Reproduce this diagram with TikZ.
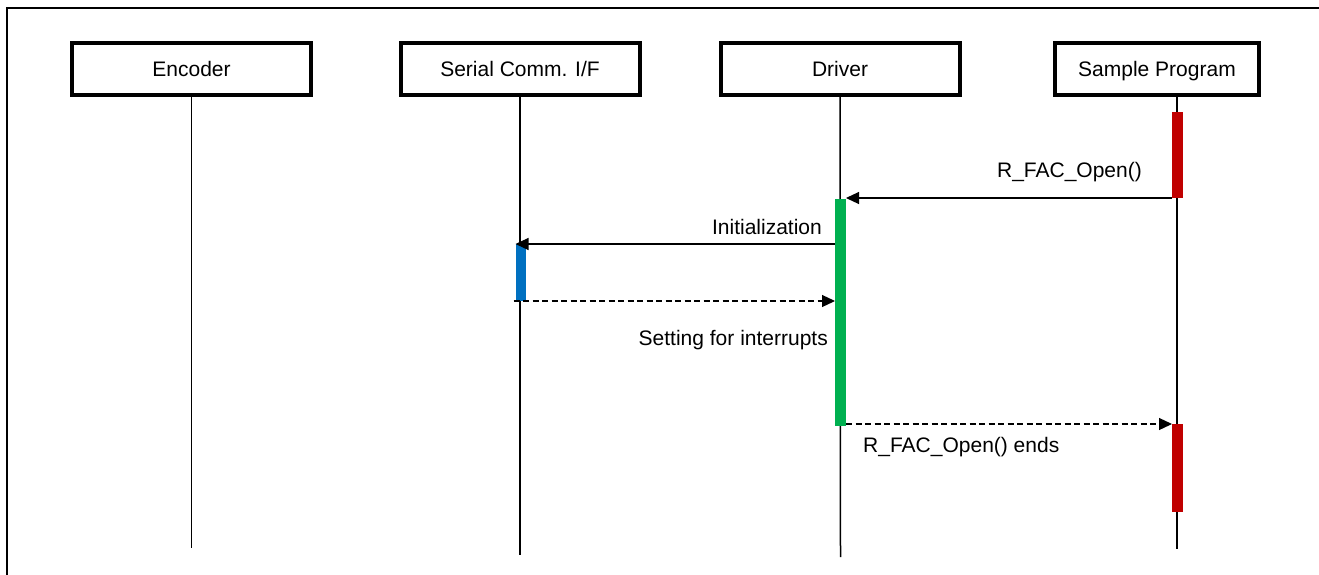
\documentclass[tikz,border=0pt]{standalone}
\usepackage{fontspec}
\setmainfont{Liberation Sans}
\usetikzlibrary{arrows.meta}

\definecolor{actred}{HTML}{C00000}
\definecolor{actgreen}{HTML}{00B050}
\definecolor{actblue}{HTML}{0070C0}

\tikzset{
  lifebox/.style={draw,line width=4pt,minimum width=239pt,minimum height=52pt,inner sep=0pt,font=\fontsize{21}{25}\selectfont,text height=16pt,text depth=1pt},
  actbar/.style={minimum width=11pt,inner sep=0pt,outer sep=0pt},
  msg/.style={line width=1.2pt,-{Triangle[length=13pt,width=12pt]}},
  ret/.style={msg,dash pattern=on 6pt off 3.5pt},
  msglabel/.style={inner sep=0pt,font=\fontsize{21}{25}\selectfont},
  lifeline/.style={line width=1.5pt}
}

\begin{document}
\begin{tikzpicture}[x=1pt,y=-1pt]
  \useasboundingbox (0,0) rectangle (1319,574);
  \draw[line width=2pt] (7,575) -- (7,8) -- (1319,8);
  % participants
  \node[lifebox] (enc) at (191.5,69) {Encoder};
  \node[lifebox] (sci) at (520,69) {Serial Comm. I/F};
  \node[lifebox] (drvbox) at (840,69) {Driver};
  \node[lifebox,minimum width=204pt] (spbox) at (1157,69) {Sample Program};
  \coordinate (encend) at (191.5,548);
  \coordinate (sciend) at (520,555);
  \coordinate (drvend) at (840.5,557);
  \coordinate (spend) at (1177,549);
  \draw[lifeline] (enc.south) -- (encend);
  \draw[lifeline] (sci.south) -- (sciend);
  \draw[lifeline] (drvbox.south) -- (drvend);
  \draw[lifeline] (spbox.south -| spend) -- (spend);
  % activations
  \node[actbar,fill=actred,minimum height=86pt,anchor=north] (sp1) at (1177.5,112) {};
  \node[actbar,fill=actgreen,minimum height=227pt,anchor=north] (drv) at (840.5,199) {};
  \node[actbar,fill=actblue,minimum height=57pt,minimum width=10pt,anchor=north] (ser) at (520.5,244) {};
  \node[actbar,fill=actred,minimum height=88pt,anchor=north] (sp2) at (1177.5,424) {};
  % messages
  \draw[msg] (sp1.south west) -- (sp1.south west -| drv.east);
  \node[msglabel,anchor=east] (lopen) at (1142,172) {R\_FAC\_Open()};
  \draw[msg] (drv.west |- ser.north) -- (ser.north west);
  \node[msglabel,anchor=east] (linit) at (822,227) {Initialization};
  \draw[ret] ([xshift=-2pt]ser.south west) -- (drv.west |- ser.south);
  \node[msglabel,anchor=east] (lint) at (828,340) {Setting for interrupts};
  \draw[ret] (drv.south east |- sp2.north) -- (sp2.north west);
  \node[msglabel,anchor=west] (lend) at (863,447) {R\_FAC\_Open() ends};
\end{tikzpicture}
\end{document}
